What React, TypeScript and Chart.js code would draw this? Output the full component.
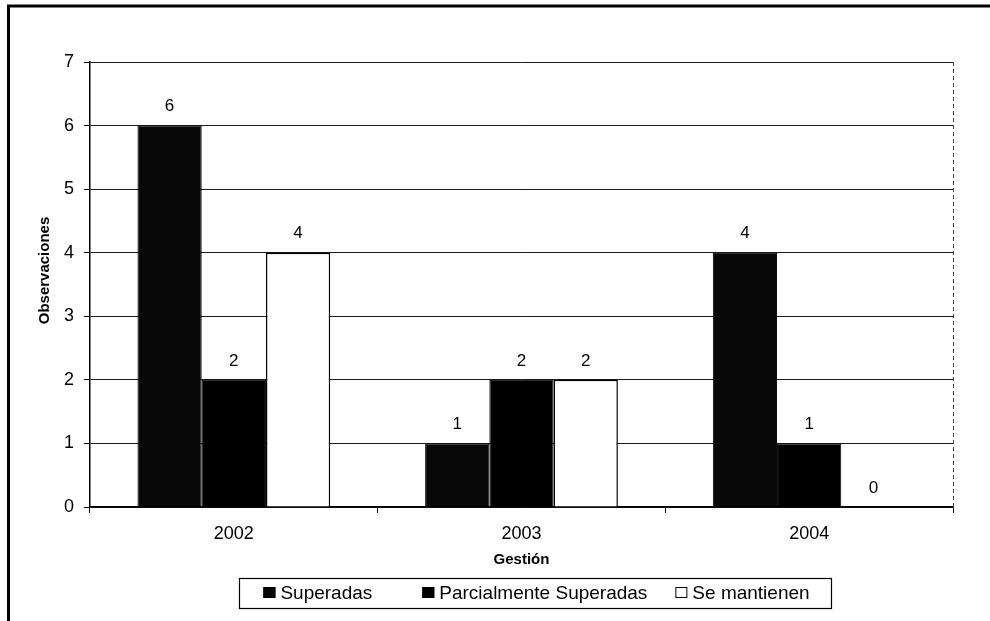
import React, { useEffect, useRef } from 'react';
import { Chart, registerables } from 'chart.js';

Chart.register(...registerables);

const categories = ['2002', '2003', '2004'];
const seriesNames = ['Superadas', 'Parcialmente Superadas', 'Se mantienen'];
const superadas = [6, 1, 4];
const parcialmente = [2, 2, 1];
const seMantienen = [4, 2, 0];
const yTicks = [0, 1, 2, 3, 4, 5, 6, 7];
const xTitle = 'Gestión';
const yTitle = 'Observaciones';

const FONT = '"Liberation Sans", Arial, sans-serif';

const framePlugin = {
  id: 'frame',
  beforeDraw(chart: any) {
    const ctx = chart.ctx;
    ctx.save();
    ctx.fillStyle = '#fff';
    ctx.fillRect(0, 0, chart.width, chart.height);
    ctx.strokeStyle = '#000';
    ctx.lineWidth = 3;
    ctx.beginPath();
    ctx.moveTo(8.5, chart.height);
    ctx.lineTo(8.5, 6);
    ctx.lineTo(chart.width, 6);
    ctx.stroke();
    ctx.restore();
  },
  beforeDatasetsDraw(chart: any) {
    const { ctx, chartArea } = chart;
    ctx.save();
    ctx.strokeStyle = '#444';
    ctx.lineWidth = 1;
    ctx.setLineDash([4, 3]);
    ctx.beginPath();
    ctx.moveTo(chartArea.right + 0.5, chartArea.top);
    ctx.lineTo(chartArea.right + 0.5, chartArea.bottom);
    ctx.stroke();
    ctx.restore();
  },
};

const valueLabelPlugin = {
  id: 'valueLabels',
  afterDatasetsDraw(chart: any) {
    const ctx = chart.ctx;
    ctx.save();
    ctx.fillStyle = '#000';
    ctx.font = `17px ${FONT}`;
    ctx.textAlign = 'center';
    ctx.textBaseline = 'middle';
    chart.data.datasets.forEach((ds: any, i: number) => {
      const meta = chart.getDatasetMeta(i);
      meta.data.forEach((bar: any, j: number) => {
        ctx.fillText(String(ds.data[j]), bar.x, bar.y - 19);
      });
    });
    ctx.restore();
  },
};

const customLegendPlugin = {
  id: 'customLegend',
  afterDraw(chart: any) {
    const { ctx, chartArea } = chart;
    ctx.save();
    ctx.font = `19px ${FONT}`;
    const marker = 12;
    const gapText = 5;
    const gaps = [50, 28];
    const padL = 24;
    const padR = 22;
    const widths = chart.data.datasets.map((ds: any) => ctx.measureText(ds.label).width);
    const total =
      widths.reduce((a: number, w: number) => a + marker + gapText + w, 0) + gaps[0] + gaps[1];
    const boxW = total + padL + padR;
    const boxH = 30;
    const cx = (chartArea.left + chartArea.right) / 2 + 14;
    const boxL = cx - boxW / 2;
    const boxT = chartArea.bottom + 71;
    ctx.strokeStyle = '#000';
    ctx.lineWidth = 1.2;
    ctx.strokeRect(Math.round(boxL) + 0.5, Math.round(boxT) + 0.5, Math.round(boxW), boxH);
    let x = boxL + padL;
    const cy = boxT + boxH / 2;
    chart.data.datasets.forEach((ds: any, i: number) => {
      ctx.fillStyle = ds.backgroundColor;
      ctx.fillRect(x, cy - marker / 2, marker, marker - 1);
      ctx.strokeStyle = '#000';
      ctx.lineWidth = 1;
      ctx.strokeRect(x + 0.5, cy - marker / 2 + 0.5, marker - 1, marker - 2);
      ctx.fillStyle = '#000';
      ctx.textAlign = 'left';
      ctx.textBaseline = 'middle';
      ctx.fillText(ds.label, x + marker + gapText, cy + 1);
      x += marker + gapText + widths[i] + (gaps[i] || 0);
    });

    // y axis title
    ctx.save();
    ctx.font = `bold 15px ${FONT}`;
    ctx.fillStyle = '#000';
    ctx.textAlign = 'center';
    ctx.textBaseline = 'middle';
    ctx.translate(45, (chartArea.top + chartArea.bottom) / 2 - 14);
    ctx.rotate(-Math.PI / 2);
    ctx.fillText(yTitle, 0, 0);
    ctx.restore();
    ctx.restore();
  },
};

export default function App() {
  const ref = useRef<HTMLCanvasElement | null>(null);

  useEffect(() => {
    if (!ref.current) return;
    const chart = new Chart(ref.current, {
      type: 'bar',
      data: {
        labels: categories,
        datasets: [
          {
            label: seriesNames[0],
            data: superadas,
            backgroundColor: '#080808',
            borderColor: '#000',
            borderWidth: 1,
          },
          {
            label: seriesNames[1],
            data: parcialmente,
            backgroundColor: '#000000',
            borderColor: '#000',
            borderWidth: 1,
          },
          {
            label: seriesNames[2],
            data: seMantienen,
            backgroundColor: '#ffffff',
            borderColor: '#000',
            borderWidth: 1.5,
          },
        ],
      },
      options: {
        animation: false,
        responsive: false,
        maintainAspectRatio: false,
        devicePixelRatio: 1,
        layout: { padding: { top: 62, right: 37, left: 0, bottom: 0 } },
        datasets: {
          bar: { categoryPercentage: 0.67, barPercentage: 1 },
        },
        plugins: {
          legend: { display: false },
          tooltip: { enabled: false },
          title: { display: false },
        },
        scales: {
          x: {
            offset: true,
            grid: {
              offset: true,
              drawOnChartArea: false,
              drawTicks: true,
              tickLength: 6,
              color: '#000',
            },
            border: { color: '#000', width: 1.5 },
            ticks: { color: '#000', font: { family: FONT, size: 18 }, padding: 10 },
            title: {
              display: true,
              text: xTitle,
              color: '#000',
              font: { family: FONT, size: 15, weight: 'bold' },
              padding: { top: 0, bottom: 52 },
            },
            afterFit: (s: any) => {
              s.height = 114;
            },
          },
          y: {
            min: yTicks[0],
            max: yTicks[yTicks.length - 1],
            ticks: {
              stepSize: 1,
              color: '#000',
              font: { family: FONT, size: 18 },
              padding: 10,
            },
            grid: {
              color: '#1a1a1a',
              lineWidth: 1,
              tickLength: 6,
              tickColor: '#000',
            },
            border: { color: '#000', width: 1.5 },
            afterFit: (s: any) => {
              s.width = 90;
            },
          },
        },
      },
      plugins: [framePlugin, valueLabelPlugin, customLegendPlugin],
    } as any);
    return () => chart.destroy();
  }, []);

  return (
    <div style={{ position: 'absolute', left: 0, top: 0, width: 990, height: 621 }}>
      <canvas ref={ref} width={990} height={621} style={{ display: 'block', width: 990, height: 621 }} />
    </div>
  );
}
